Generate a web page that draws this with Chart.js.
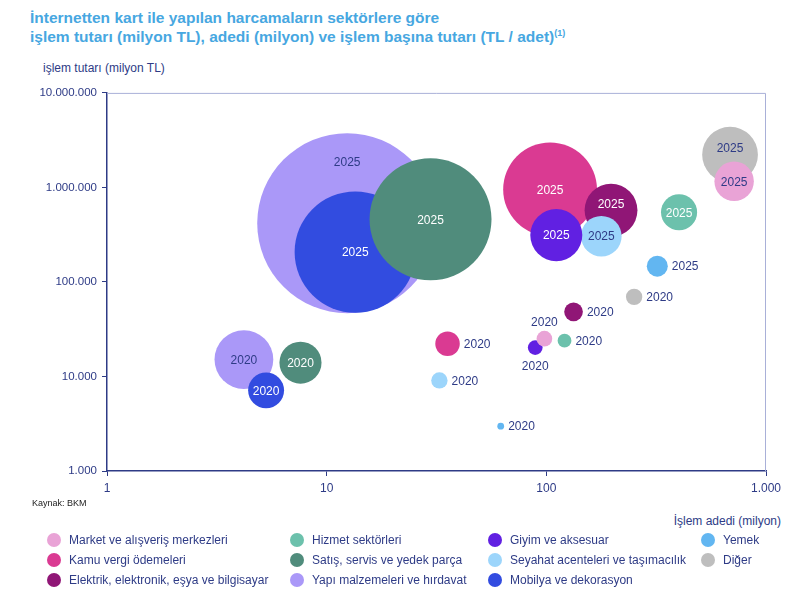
<!DOCTYPE html>
<html lang="tr">
<head>
<meta charset="utf-8">
<script src="https://cdn.jsdelivr.net/npm/chart.js@4.4.0/dist/chart.umd.min.js"></script>
<style>
  body { margin: 0; width: 800px; height: 601px; position: relative; overflow: hidden; background: #fff;
         font-family: "Liberation Sans", Arial, Helvetica, sans-serif; }
  #title { position: absolute; left: 30px; top: 8px; color: #47a7e1; font-weight: bold; font-size: 15.5px; line-height: 19px; }
  #title sup { font-size: 9px; vertical-align: 6px; line-height: 0; }
  #ytitle { position: absolute; left: 43px; top: 61px; font-size: 12px; color: #2e3b86; }
  #source { position: absolute; left: 32px; top: 498px; font-size: 9px; color: #222; }
  #xtitle { position: absolute; right: 19px; top: 514px; font-size: 12px; color: #2e3b86; }
  #chart { position: absolute; left: 0; top: 81px; width: 800px; height: 420px; }
  #legend { position: absolute; left: 0; top: 531px; width: 800px; }
  .item { position: absolute; height: 20px; font-size: 12px; color: #2e3b86; white-space: nowrap; line-height: 18px; }
  .dot { position: absolute; left: 0; top: 2px; width: 14px; height: 14px; border-radius: 50%; }
  .txt { position: absolute; left: 22px; top: 0; }
</style>
</head>
<body>
<div id="title">İnternetten kart ile yapılan harcamaların sektörlere göre<br>işlem tutarı (milyon TL), adedi (milyon) ve işlem başına tutarı (TL / adet)<sup>(1)</sup></div>
<div id="ytitle">işlem tutarı (milyon TL)</div>
<canvas id="chart" width="800" height="420"></canvas>
<div id="source">Kaynak: BKM</div>
<div id="xtitle">İşlem adedi (milyon)</div>
<div id="legend"></div>

<script>
// sektörler
const sectors = [
  "Market ve alışveriş merkezleri",
  "Hizmet sektörleri",
  "Giyim ve aksesuar",
  "Yemek",
  "Kamu vergi ödemeleri",
  "Satış, servis ve yedek parça",
  "Seyahat acenteleri ve taşımacılık",
  "Diğer",
  "Elektrik, elektronik, eşya ve bilgisayar",
  "Yapı malzemeleri ve hırdavat",
  "Mobilya ve dekorasyon",
];

// işlem adedi (milyon)
const adet2020 = [98, 121, 89, 62, 35.5, 7.6, 32.6, 251, 133, 4.2, 5.3];
const adet2025 = [716, 402, 111, 320, 104, 29.7, 178, 686, 197, 12.4, 13.5];

// işlem tutarı (milyon TL)
const tutar2020 = [25100, 23900, 20200, 2980, 22200, 14000, 9080, 69500, 48300, 15100, 7130];
const tutar2025 = [1160000, 546000, 313000, 147000, 953000, 460000, 305000, 2220000, 573000, 418000, 207000];

// eksen değerleri
const xTicks = [1, 10, 100, 1000];
const yTicks = [1000, 10000, 100000, 1000000, 10000000];

// renkler
const colors = [
  "#e9a3d6", "#6cc1ac", "#6120e2", "#62b6f1", "#da3a92", "#508c7c",
  "#9cd5fb", "#bebebe", "#901676", "#aa98f8", "#324ce0",
];
const textOnBubble = [
  "#2e3b86", "#ffffff", "#ffffff", "#2e3b86", "#ffffff", "#ffffff",
  "#2e3b86", "#2e3b86", "#ffffff", "#2e3b86", "#ffffff",
];
// çizim sırası (büyük = arkada)
const layer = [2, 1, 3, 0, 8, 5, 4, 9, 7, 10, 6];
// etiket yerleri
const place2020 = ["above", "right", "below", "right", "right", "center", "right", "right", "right", "center", "center"];
const place2025 = ["center", "center", "center", "right", "center", "center", "center", "up", "up", "top", "center"];

const NAVY = "#2e3b86";
const FONT = '"Liberation Sans", Arial, Helvetica, sans-serif';

// balon yarıçapı: işlem başına tutar (TL / adet)
function bubbleR(tutar, adet) {
  return 0.49 * Math.sqrt(tutar / adet);
}

function fmt(v) {
  return String(v).replace(/\B(?=(\d{3})+(?!\d))/g, ".");
}

const datasets = sectors.map((name, i) => ({
  label: name,
  data: [
    { x: adet2020[i], y: tutar2020[i], r: bubbleR(tutar2020[i], adet2020[i]) },
    { x: adet2025[i], y: tutar2025[i], r: bubbleR(tutar2025[i], adet2025[i]) },
  ],
  backgroundColor: colors[i],
  hoverBackgroundColor: colors[i],
  borderWidth: 0,
  hoverBorderWidth: 0,
  order: layer[i],
}));

// üst ve sağ çerçeve
const framePlugin = {
  id: "frame",
  beforeDatasetsDraw(chart) {
    const a = chart.chartArea;
    const ctx = chart.ctx;
    ctx.save();
    ctx.strokeStyle = "#a9b0d8";
    ctx.lineWidth = 1;
    ctx.beginPath();
    ctx.moveTo(a.left, a.top + 0.5);
    ctx.lineTo(a.right - 0.5, a.top + 0.5);
    ctx.lineTo(a.right - 0.5, a.bottom);
    ctx.stroke();
    ctx.restore();
  },
};

// yıl etiketleri
const yearPlugin = {
  id: "years",
  afterDatasetsDraw(chart) {
    const ctx = chart.ctx;
    ctx.save();
    ctx.font = "12px " + FONT;
    ctx.textBaseline = "middle";
    chart.data.datasets.forEach((ds, i) => {
      const meta = chart.getDatasetMeta(i);
      meta.data.forEach((el, j) => {
        const year = j === 0 ? "2020" : "2025";
        const pos = j === 0 ? place2020[i] : place2025[i];
        const r = el.options.radius;
        let x = el.x, y = el.y;
        ctx.textAlign = "center";
        ctx.fillStyle = textOnBubble[i];
        if (pos === "right") {
          ctx.textAlign = "left";
          ctx.fillStyle = NAVY;
          x = el.x + r + 4;
        } else if (pos === "above") {
          ctx.fillStyle = NAVY;
          y = el.y - r - 9;
        } else if (pos === "below") {
          ctx.fillStyle = NAVY;
          y = el.y + r + 11;
        } else if (pos === "up") {
          y = el.y - 7;
        } else if (pos === "top") {
          y = el.y - r * 0.68;
        }
        ctx.fillText(year, x, y + 1);
      });
    });
    ctx.restore();
  },
};

new Chart(document.getElementById("chart"), {
  type: "bubble",
  data: { datasets },
  plugins: [framePlugin, yearPlugin],
  options: {
    responsive: false,
    animation: false,
    events: [],
    devicePixelRatio: 1,
    layout: { autoPadding: false, padding: { top: 10, right: 34, left: 0, bottom: 0 } },
    plugins: {
      legend: { display: false },
      tooltip: { enabled: false },
    },
    scales: {
      x: {
        type: "logarithmic",
        min: 1,
        max: 1000,
        afterBuildTicks: (scale) => { scale.ticks = xTicks.map((v) => ({ value: v })); },
        afterFit: (scale) => { scale.height = 30; },
        grid: { drawOnChartArea: false, drawTicks: true, tickLength: 5, color: NAVY },
        border: { display: true, color: NAVY, width: 1.5 },
        ticks: {
          color: NAVY,
          padding: 5,
          maxRotation: 0,
          autoSkip: false,
          font: { family: FONT, size: 12 },
          callback: (v) => fmt(v),
        },
      },
      y: {
        type: "logarithmic",
        min: 1000,
        max: 10000000,
        afterBuildTicks: (scale) => { scale.ticks = yTicks.map((v) => ({ value: v })); },
        afterFit: (scale) => { scale.width = 107; },
        grid: { drawOnChartArea: false, drawTicks: true, tickLength: 5, color: NAVY },
        border: { display: true, color: NAVY, width: 1.5 },
        ticks: {
          color: NAVY,
          padding: 5,
          autoSkip: false,
          font: { family: FONT, size: 11.5 },
          callback: (v) => fmt(v),
        },
      },
    },
  },
});

// lejant (4 sütun)
const legendCols = [47, 290, 488, 701];
const legend = document.getElementById("legend");
sectors.forEach((name, i) => {
  const item = document.createElement("div");
  item.className = "item";
  item.style.left = legendCols[i % 4] + "px";
  item.style.top = Math.floor(i / 4) * 20 + "px";
  item.innerHTML = '<span class="dot" style="background:' + colors[i] + '"></span><span class="txt"></span>';
  item.querySelector(".txt").textContent = name;
  legend.appendChild(item);
});
</script>
</body>
</html>
